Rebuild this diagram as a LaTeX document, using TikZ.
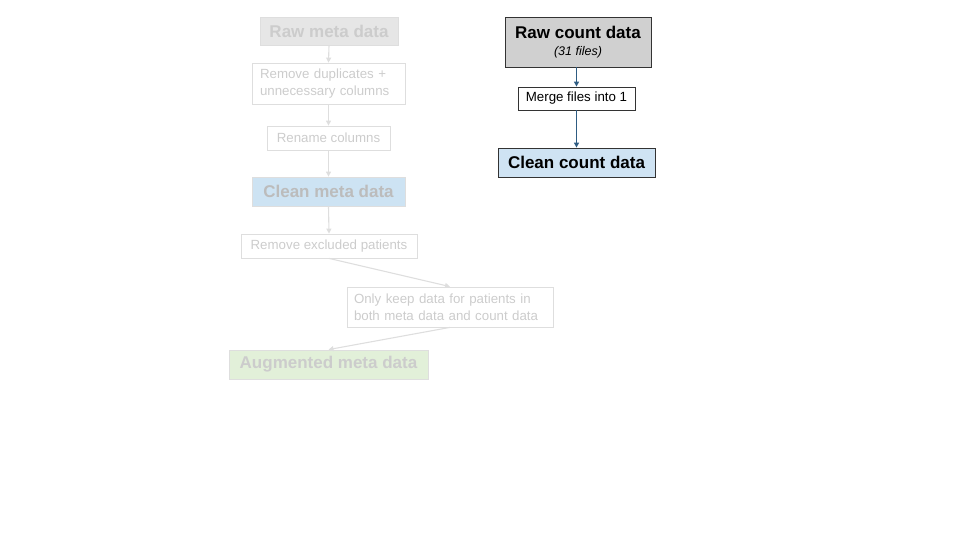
\documentclass[tikz,border=0pt]{standalone}
\usepackage{fontspec}
\setmainfont{Liberation Sans}
\usetikzlibrary{arrows.meta}
\definecolor{fadeline}{HTML}{DEDEDE}
\definecolor{fadetext}{HTML}{CCCCCC}
\definecolor{fadegray}{HTML}{E6E6E6}
\definecolor{fadeblue}{HTML}{CDE3F3}
\definecolor{fadegreen}{HTML}{E2F0D9}
\definecolor{darkgray}{HTML}{D0D0D0}
\definecolor{lightblue}{HTML}{CFE3F3}
\definecolor{arrowblue}{HTML}{2E5C82}
\tikzset{
  x=1pt, y=-1pt,
  fadebox/.style={draw=fadeline, line width=0.8pt, text=fadetext, align=left, inner sep=0pt, font=\fontsize{13.3}{17}\selectfont},
  fadetitle/.style={fadebox, font=\bfseries\fontsize{17}{20}\selectfont, align=center},
  fadearrow/.style={draw=fadeline, line width=1.1pt, -{Triangle[length=5pt,width=5pt]}},
  solidbox/.style={draw=black!80, line width=0.8pt, text=black, inner sep=0pt, align=center},
  solidarrow/.style={draw=arrowblue, line width=1.2pt, -{Triangle[length=5pt,width=5pt]}},
}
\begin{document}
\begin{tikzpicture}
\useasboundingbox (0,0) rectangle (960,540);
% left, faded flow
\node[fadetitle, fill=fadegray, minimum width=138pt, minimum height=28pt] (rawmeta) at (329,31) {Raw meta data};
\node[fadebox, minimum width=153pt, minimum height=41pt, text width=137pt] (dup) at (328.5,83.5) {Remove duplicates +\\unnecessary columns};
\node[fadebox, minimum width=123pt, minimum height=24pt, align=center] (rename) at (328.5,138) {Rename columns};
\node[fadetitle, fill=fadeblue, text=fadetext!92!black, minimum width=153pt, minimum height=29pt] (cleanmeta) at (328.5,191.5) {Clean meta data};
\node[fadebox, minimum width=176pt, minimum height=24pt, align=center] (excl) at (329,246) {Remove excluded patients};
\node[fadebox, minimum width=206pt, minimum height=40pt, text width=192pt] (keep) at (450,307) {Only keep data for patients in\\both meta data and count data};
\node[fadetitle, fill=fadegreen, minimum width=199pt, minimum height=29pt] (aug) at (328.5,364.5) {Augmented meta data};
\draw[fadearrow] (rawmeta.south) -- (dup.north);
\draw[fadearrow] (dup.south) -- (rename.north);
\draw[fadearrow] (rename.south) -- (cleanmeta.north);
\draw[fadearrow] (cleanmeta.south) -- (excl.north);
\draw[fadearrow] (excl.south) -- (keep.north);
\draw[fadearrow] (keep.south) -- (aug.north);
% right, solid flow
\node[solidbox, fill=darkgray, minimum width=146pt, minimum height=50pt] (rawcount) at (578,42) {{\bfseries\fontsize{17}{20}\selectfont Raw count data}\\[5pt]{\itshape\fontsize{12.5}{14}\selectfont (31 files)}};
\node[solidbox, fill=white, minimum width=117pt, minimum height=23pt, font=\fontsize{13.3}{15}\selectfont] (merge) at (576.5,98.5) {Merge files into 1};
\node[solidbox, fill=lightblue, minimum width=157pt, minimum height=29pt, font=\bfseries\fontsize{17}{20}\selectfont] (cleancount) at (576.5,162.5) {Clean count data};
\draw[solidarrow] (rawcount.south -| merge.north) -- (merge.north);
\draw[solidarrow] (merge.south) -- (cleancount.north);
\end{tikzpicture}
\end{document}
